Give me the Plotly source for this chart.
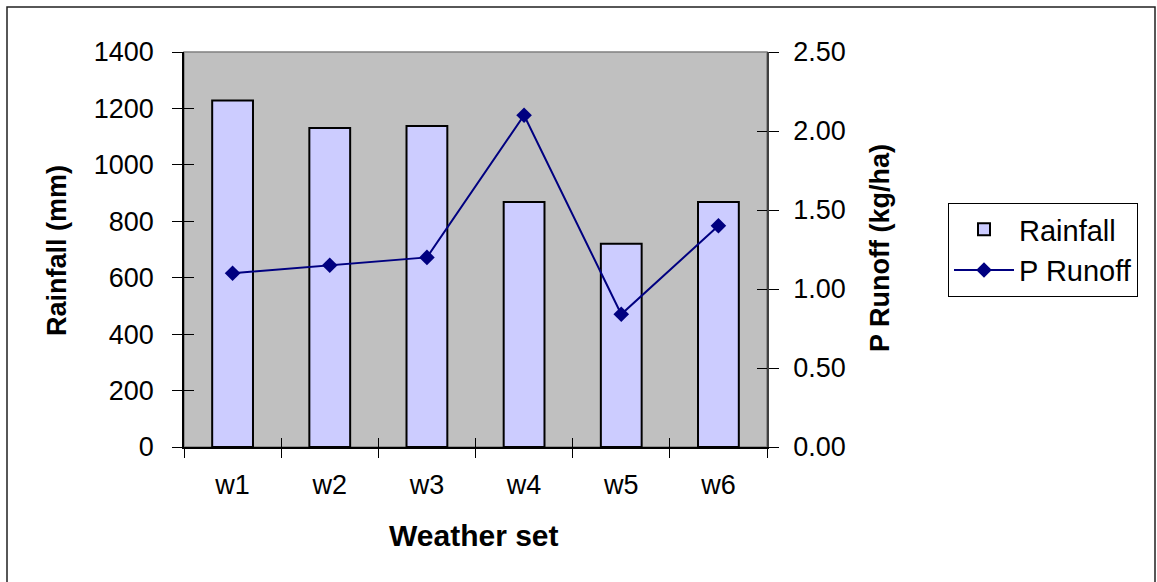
import plotly.graph_objects as go

# Weather sets and their results
weather_sets = ["w1", "w2", "w3", "w4", "w5", "w6"]
rainfall_mm = [1228, 1131, 1138, 868, 720, 868]
p_runoff_kg_ha = [1.10, 1.15, 1.20, 2.10, 0.84, 1.40]

rain_ticks = [0, 200, 400, 600, 800, 1000, 1200, 1400]
runoff_ticks = [0.0, 0.5, 1.0, 1.5, 2.0, 2.5]

W, H = 1157, 582
L, R, T, B = 184, 767, 52, 447  # plot area in pixels

FONT = "Liberation Sans, Arial, sans-serif"
tick_font = dict(family=FONT, size=27, color="black")


def px_x(p):
    return (p - L) / (R - L)


def px_y(p):
    return (B - p) / (B - T)


fig = go.Figure()

fig.add_trace(go.Bar(
    x=weather_sets, y=rainfall_mm, name="Rainfall",
    marker=dict(color="#CCCCFF", line=dict(color="black", width=2)),
    width=0.42, xaxis="x", yaxis="y",
))
fig.add_trace(go.Scatter(
    x=weather_sets, y=p_runoff_kg_ha, name="P Runoff", mode="lines+markers",
    line=dict(color="#000080", width=2),
    marker=dict(symbol="diamond", size=12, color="#000080"),
    xaxis="x", yaxis="y2",
))
# empty helpers so the inner-tick overlay axes get drawn
fig.add_trace(go.Scatter(x=[], y=[], xaxis="x2", yaxis="y3", showlegend=False, hoverinfo="skip"))
fig.add_trace(go.Scatter(x=[], y=[], xaxis="x2", yaxis="y4", showlegend=False, hoverinfo="skip"))

axis_common = dict(showgrid=False, zeroline=False, tickcolor="black", tickwidth=1)

fig.update_layout(
    width=W, height=H,
    margin=dict(l=L, r=W - R, t=T, b=H - B, pad=0),
    paper_bgcolor="white",
    plot_bgcolor="#C0C0C0",
    showlegend=True,
    xaxis=dict(
        type="category", categoryorder="array", categoryarray=weather_sets,
        range=[-0.5, 5.5], showline=True, linecolor="black", linewidth=1.5,
        ticks="outside", ticklen=9, tickson="boundaries",
        tickfont=tick_font, ticklabelstandoff=13, **axis_common,
    ),
    xaxis2=dict(
        overlaying="x", anchor="y", range=[-0.5, 5.5], tick0=-0.5, dtick=1,
        ticks="inside", ticklen=9, showticklabels=False, showline=False,
        **axis_common,
    ),
    yaxis=dict(
        range=[0, 1400], tickvals=rain_ticks, showline=True, linecolor="black",
        linewidth=1.5, ticks="outside", ticklen=10, tickfont=tick_font,
        ticklabelstandoff=13, **axis_common,
    ),
    yaxis2=dict(
        overlaying="y", side="right", anchor="x", range=[0, 2.5],
        tickvals=runoff_ticks, tickformat=".2f", showline=True,
        linecolor="#404040", linewidth=1.5, ticks="outside", ticklen=10,
        tickfont=tick_font, ticklabelstandoff=9, **axis_common,
    ),
    yaxis3=dict(
        overlaying="y", side="left", anchor="x2", range=[0, 1400],
        tickvals=rain_ticks, ticks="inside", ticklen=10,
        showticklabels=False, showline=False, **axis_common,
    ),
    yaxis4=dict(
        overlaying="y", side="right", anchor="x2", range=[0, 2.5],
        tickvals=runoff_ticks, ticks="inside", ticklen=10,
        showticklabels=False, showline=False, **axis_common,
    ),
    legend=dict(
        x=px_x(948), y=px_y(203), xanchor="left", yanchor="top",
        bgcolor="white", bordercolor="black", borderwidth=1,
        font=dict(family=FONT, size=29, color="black"),
        traceorder="normal", tracegroupgap=0, itemwidth=60,
    ),
    annotations=[
        dict(text="<b>Rainfall (mm)</b>", xref="paper", yref="paper",
             x=px_x(57), y=px_y(251), textangle=-90, showarrow=False,
             xanchor="center", yanchor="middle",
             font=dict(family=FONT, size=27, color="black")),
        dict(text="<b>P Runoff (kg/ha)</b>", xref="paper", yref="paper",
             x=px_x(880), y=px_y(248), textangle=-90, showarrow=False,
             xanchor="center", yanchor="middle",
             font=dict(family=FONT, size=27, color="black")),
        dict(text="<b>Weather set</b>", xref="paper", yref="paper",
             x=px_x(474), y=px_y(535), showarrow=False,
             xanchor="center", yanchor="middle",
             font=dict(family=FONT, size=30, color="black")),
    ],
    shapes=[
        # plot area frame (top/right edges)
        dict(type="rect", xref="paper", yref="paper", x0=0, x1=1, y0=0, y1=1,
             line=dict(color="#808080", width=1.5), layer="below"),
        # outer chart border
        dict(type="rect", xref="paper", yref="paper",
             x0=px_x(7), x1=px_x(1155), y0=px_y(590), y1=px_y(7),
             line=dict(color="#202020", width=1.5), layer="above"),
    ],
)

fig.write_html("out.html")
